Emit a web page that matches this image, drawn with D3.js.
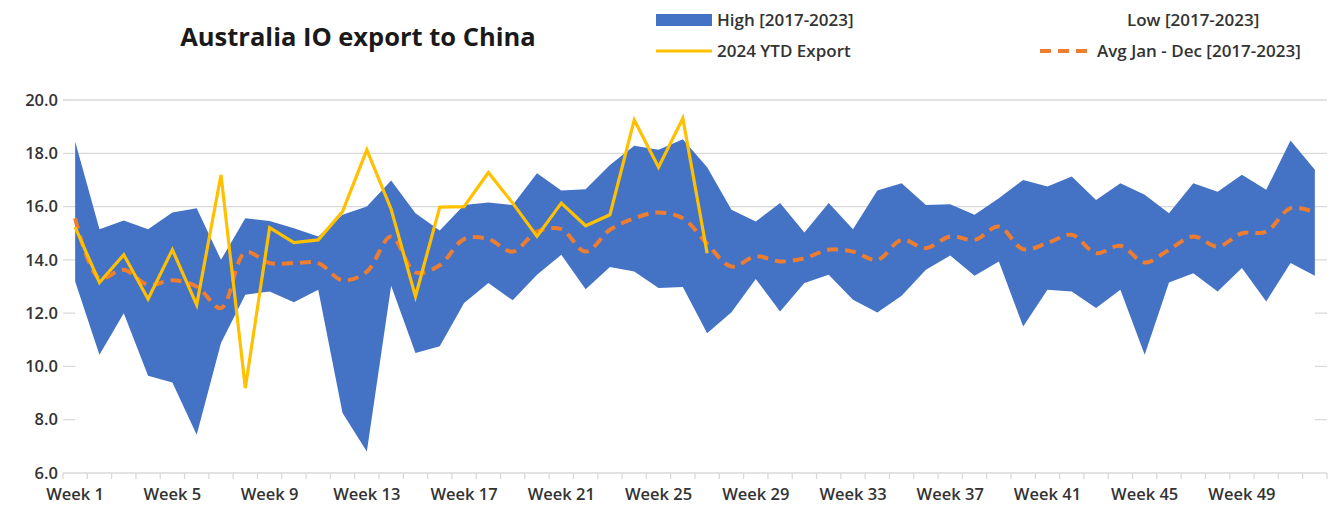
<!DOCTYPE html>
<html>
<head>
<meta charset="utf-8">
<script src="https://cdn.jsdelivr.net/npm/d3@7"></script>
<style>
  body { margin: 0; background: #fff; }
  svg text { font-family: "Open Sans", Lato, sans-serif; }
</style>
</head>
<body>
<svg id="chart" width="1332" height="506"></svg>
<script>
let weeks = d3.range(1, 53).map(w => 'Week ' + w)

let highValues = [18.44, 15.15, 15.48, 15.15, 15.78, 15.94, 14.0, 15.56, 15.46, 15.19,
  14.88, 15.69, 16.0, 16.98, 15.75, 15.1, 16.06, 16.15, 16.06, 17.25,
  16.6, 16.65, 17.56, 18.28, 18.13, 18.53, 17.48, 15.88, 15.44, 16.13,
  15.03, 16.13, 15.15, 16.6, 16.88, 16.06, 16.09, 15.69, 16.31, 17.0,
  16.75, 17.13, 16.25, 16.88, 16.44, 15.75, 16.88, 16.56, 17.19, 16.63,
  18.48, 17.38]

let lowValues = [13.19, 10.44, 12.0, 9.65, 9.4, 7.44, 10.88, 12.69, 12.81, 12.41,
  12.88, 8.25, 6.81, 13.03, 10.5, 10.76, 12.38, 13.13, 12.48, 13.44,
  14.19, 12.9, 13.73, 13.56, 12.94, 12.98, 11.25, 12.03, 13.28, 12.06,
  13.13, 13.44, 12.5, 12.02, 12.65, 13.63, 14.16, 13.4, 13.94, 11.5,
  12.88, 12.81, 12.19, 12.88, 10.44, 13.15, 13.5, 12.81, 13.69, 12.44,
  13.88, 13.4]

let avgValues = [15.56, 13.31, 13.63, 13.06, 13.23, 13.0, 12.19, 14.28, 13.88, 13.88,
  13.88, 13.23, 13.56, 14.88, 13.53, 13.8, 14.78, 14.78, 14.31, 15.06,
  15.15, 14.31, 15.13, 15.56, 15.78, 15.56, 14.6, 13.75, 14.13, 13.94,
  14.06, 14.38, 14.31, 14.0, 14.75, 14.44, 14.88, 14.75, 15.25, 14.4,
  14.63, 14.94, 14.25, 14.53, 13.9, 14.38, 14.88, 14.5, 15.0, 15.06,
  15.94, 15.78]

let ytdValues = [15.23, 13.15, 14.19, 12.53, 14.38, 12.31, 17.19, 9.19, 15.21, 14.65,
  14.75, 15.81, 18.13, 15.9, 12.63, 15.98, 16.0, 17.28, 16.13, 14.88,
  16.13, 15.28, 15.69, 19.25, 17.48, 19.31, 14.25]

let yTicks = [6, 8, 10, 12, 14, 16, 18, 20]
let xLabels = weeks.filter((w, i) => i % 4 == 0)

let svg = d3.select('#chart')

let x = d3.scaleBand().domain(weeks).range([63, 1327])
let y = d3.scaleLinear().domain([6, 20]).range([473, 100])
let cx = (w) => x(w) + x.bandwidth() / 2

let rows = weeks.map((w, i) => {
  return { week: w, high: highValues[i], low: lowValues[i], avg: avgValues[i] }
})

// gridlines
svg.append('g')
  .selectAll('line')
  .data(yTicks.filter(t => t > 6))
  .enter()
  .append('line')
  .attr('x1', 63)
  .attr('x2', 1327)
  .attr('y1', d => y(d))
  .attr('y2', d => y(d))
  .attr('stroke', '#d9d9d9')
  .attr('stroke-width', 1.3)

// white "low" area hides gridlines like the stacked excel area
svg.append('path')
  .datum(rows)
  .attr('fill', '#ffffff')
  .attr('d', d3.area()
    .x(d => cx(d.week))
    .y0(y(6))
    .y1(d => y(d.low)))

svg.append('path')
  .datum(rows)
  .attr('fill', '#4472c4')
  .attr('d', d3.area()
    .x(d => cx(d.week))
    .y0(d => y(d.low))
    .y1(d => y(d.high)))

// x axis line + ticks at category boundaries
svg.append('line')
  .attr('x1', 63).attr('x2', 1327)
  .attr('y1', y(6)).attr('y2', y(6))
  .attr('stroke', '#d9d9d9').attr('stroke-width', 1.3)

let bounds = weeks.map(w => x(w)).concat([x.range()[1]])
svg.append('g')
  .selectAll('line')
  .data(bounds)
  .enter()
  .append('line')
  .attr('x1', d => d).attr('x2', d => d)
  .attr('y1', y(6)).attr('y2', y(6) + 6)
  .attr('stroke', '#d9d9d9').attr('stroke-width', 1.3)

let xAxis = svg.append('g')
  .attr('transform', `translate(0, ${y(6)})`)
  .call(d3.axisBottom(x).tickValues(xLabels).tickSize(0).tickPadding(15))
xAxis.select('.domain').remove()
xAxis.selectAll('text')
  .attr('font-size', 16.5)
  .attr('font-weight', 600)
  .attr('fill', '#333')
  .style('font-family', '"Open Sans", sans-serif')

let yAxis = svg.append('g')
  .attr('transform', 'translate(58, 0)')
  .call(d3.axisLeft(y).tickValues(yTicks).tickFormat(d3.format('.1f')).tickSize(0).tickPadding(0))
yAxis.select('.domain').remove()
yAxis.selectAll('text')
  .attr('font-size', 16.5)
  .attr('font-weight', 600)
  .attr('fill', '#333')
  .style('font-family', '"Open Sans", sans-serif')

// average line
svg.append('path')
  .datum(rows)
  .attr('fill', 'none')
  .attr('stroke', '#ed7d31')
  .attr('stroke-width', 4)
  .attr('stroke-dasharray', '11 7')
  .attr('d', d3.line()
    .curve(d3.curveCatmullRom)
    .x(d => cx(d.week))
    .y(d => y(d.avg)))

// 2024 ytd line
svg.append('path')
  .datum(ytdValues)
  .attr('fill', 'none')
  .attr('stroke', '#ffc000')
  .attr('stroke-width', 3.2)
  .attr('stroke-linejoin', 'miter')
  .attr('d', d3.line()
    .x((d, i) => cx(weeks[i]))
    .y(d => y(d)))

// title
svg.append('text')
  .text('Australia IO export to China')
  .attr('x', 358)
  .attr('y', 46)
  .attr('text-anchor', 'middle')
  .attr('font-size', 25.5)
  .attr('font-weight', 'bold')
  .attr('fill', '#1a1a1a')

// legend
let legend = svg.append('g').attr('font-size', 17).attr('font-weight', 600).attr('fill', '#333')

legend.append('rect')
  .attr('x', 656).attr('y', 14).attr('width', 56).attr('height', 12)
  .attr('fill', '#4472c4')
legend.append('text').text('High [2017-2023]').attr('x', 717).attr('y', 26)

legend.append('line')
  .attr('x1', 656).attr('x2', 712).attr('y1', 51).attr('y2', 51)
  .attr('stroke', '#ffc000').attr('stroke-width', 3.2)
legend.append('text').text('2024 YTD Export').attr('x', 717).attr('y', 57)

legend.append('text').text('Low [2017-2023]').attr('x', 1127).attr('y', 26)

legend.append('line')
  .attr('x1', 1040).attr('x2', 1091).attr('y1', 51).attr('y2', 51)
  .attr('stroke', '#ed7d31').attr('stroke-width', 4).attr('stroke-dasharray', '11 7')
legend.append('text').text('Avg Jan - Dec [2017-2023]').attr('x', 1097).attr('y', 57)
</script>
</body>
</html>
